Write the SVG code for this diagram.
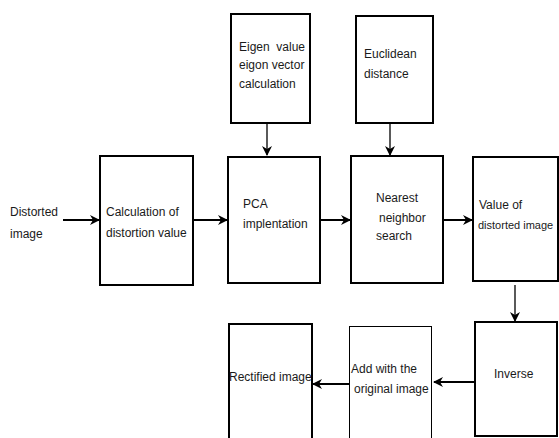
<svg xmlns="http://www.w3.org/2000/svg" width="559" height="438" viewBox="0 0 559 438">
<defs>
<marker id="ah" markerWidth="10" markerHeight="10" refX="9" refY="5" orient="auto" markerUnits="userSpaceOnUse">
<path d="M0,0 L10,5 L0,10 L3,5 Z" fill="#000"/>
</marker>
</defs>
<style>
.box{fill:#fff;stroke:#000;stroke-width:2}
.thin{stroke-width:1}
.t{font-family:"Liberation Sans",Arial,sans-serif;font-size:12px;fill:#1a1a1a}
.c{stroke:#000;stroke-width:2;fill:none;marker-end:url(#ah)}
.c1{stroke:#000;stroke-width:1.3;fill:none;marker-end:url(#ah)}
</style>
<rect width="559" height="438" fill="#fff"/>
<g id="connectors">
<line class="c" x1="63" y1="220" x2="99" y2="220"/>
<line class="c" x1="193" y1="220" x2="227" y2="220"/>
<line class="c" x1="320" y1="220" x2="350" y2="220"/>
<line class="c" x1="443" y1="220" x2="472" y2="220"/>
<line class="c1" x1="267" y1="123" x2="267" y2="155"/>
<line class="c1" x1="390" y1="118" x2="390" y2="155"/>
<line class="c1" x1="515" y1="285" x2="515" y2="321"/>
<line class="c" x1="475" y1="382" x2="434" y2="382"/>
<line class="c" x1="349" y1="384" x2="313" y2="384"/>
</g>
<g id="distorted">
<text class="t" x="10" y="216">Distorted</text>
<text class="t" x="10" y="238">image</text>
</g>
<g id="eigen">
<rect class="box" x="231" y="14" width="79" height="109"/>
<text class="t" x="239" y="51" xml:space="preserve">Eigen  value</text>
<text class="t" x="239" y="69">eigon vector</text>
<text class="t" x="239" y="88">calculation</text>
</g>
<g id="euclidean">
<rect class="box" x="356" y="16" width="77" height="107"/>
<text class="t" x="364" y="58">Euclidean</text>
<text class="t" x="364" y="78">distance</text>
</g>
<g id="calc">
<rect class="box" x="100" y="156" width="93" height="129"/>
<text class="t" x="106" y="216">Calculation of</text>
<text class="t" x="106" y="237">distortion value</text>
</g>
<g id="pca">
<rect class="box" x="228" y="157" width="92" height="126"/>
<text class="t" x="243" y="208">PCA</text>
<text class="t" x="243" y="228">implentation</text>
</g>
<g id="nearest">
<rect class="box" x="351" y="156" width="92" height="127"/>
<text class="t" x="376" y="202">Nearest</text>
<text class="t" x="379" y="222">neighbor</text>
<text class="t" x="376" y="240">search</text>
</g>
<g id="value">
<rect class="box" x="473" y="157" width="85" height="124"/>
<text class="t" x="479" y="209">Value of</text>
<text class="t" x="478" y="229" style="font-size:11px">distorted image</text>
</g>
<g id="inverse">
<rect class="box" x="475" y="322" width="82" height="114"/>
<text class="t" x="494" y="378">Inverse</text>
</g>
<g id="add">
<rect class="box thin" x="349.5" y="326.5" width="82" height="120"/>
<text class="t" x="351" y="373">Add with the</text>
<text class="t" x="354" y="393">original image</text>
</g>
<g id="rectified">
<rect class="box" x="229" y="324" width="83" height="124"/>
<text class="t" x="229" y="381">Rectified image</text>
</g>
</svg>
